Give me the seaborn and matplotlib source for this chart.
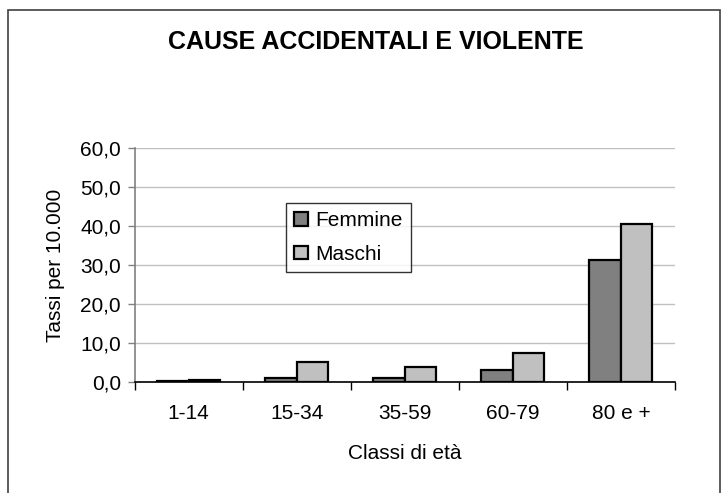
import matplotlib
matplotlib.use("Agg")
import matplotlib.pyplot as plt
import seaborn as sns
import pandas as pd
from matplotlib.patches import Rectangle
from matplotlib.ticker import FuncFormatter, MultipleLocator, FixedLocator

categories = ["1-14", "15-34", "35-59", "60-79", "80 e +"]
femmine = [0.3, 1.1, 1.1, 3.2, 31.2]
maschi = [0.5, 5.1, 3.9, 7.5, 40.6]
series = ["Femmine", "Maschi"]
colors = {"Femmine": "#808080", "Maschi": "#C0C0C0"}

df = pd.DataFrame({
    "Classe": categories * 2,
    "Valore": femmine + maschi,
    "Sesso": [series[0]] * len(categories) + [series[1]] * len(categories),
})

sns.set_theme(style="white")
plt.rcParams["font.family"] = ["Liberation Sans", "DejaVu Sans"]
plt.rcParams["text.color"] = "black"
plt.rcParams["axes.labelcolor"] = "black"
plt.rcParams["xtick.color"] = "black"
plt.rcParams["ytick.color"] = "black"

FS = 15

fig = plt.figure(figsize=(7.28, 4.93), dpi=100)
ax = fig.add_axes([0.185, 0.225, 0.742, 0.475])

sns.barplot(data=df, x="Classe", y="Valore", hue="Sesso", order=categories,
            hue_order=series, palette=colors, width=0.585, gap=0,
            edgecolor="black", linewidth=1.6, ax=ax, legend=True, zorder=3)

ax.set_ylim(0, 60)
ax.set_xlim(-0.5, 4.5)
ax.yaxis.set_major_locator(MultipleLocator(10))
ax.yaxis.set_major_formatter(FuncFormatter(lambda v, p: f"{v:.1f}".replace(".", ",")))
ax.grid(axis="y", color="#C0C0C0", linewidth=1, zorder=0)
ax.grid(axis="x", visible=False)
ax.set_axisbelow(True)

for s in ["top", "right"]:
    ax.spines[s].set_visible(False)
ax.spines["left"].set_color("#808080")
ax.spines["left"].set_linewidth(1.2)
ax.spines["bottom"].set_color("black")
ax.spines["bottom"].set_linewidth(1.2)

ax.tick_params(axis="y", which="major", direction="out", length=5, width=1,
               color="#808080", labelcolor="black", labelsize=FS, pad=5, left=True)
ax.xaxis.set_minor_locator(FixedLocator([-0.5, 0.5, 1.5, 2.5, 3.5, 4.5]))
ax.tick_params(axis="x", which="minor", direction="out", length=6, width=1,
               color="black", bottom=True)
ax.tick_params(axis="x", which="major", length=0, labelsize=FS, pad=16,
               labelcolor="black")

ax.set_xlabel("Classi di età", fontsize=FS, labelpad=15, color="black")
ax.set_ylabel("Tassi per 10.000", fontsize=FS, labelpad=11, color="black")

leg = ax.legend(loc="upper left", bbox_to_anchor=(0.280, 0.765), frameon=True,
                fancybox=False, edgecolor="black", fontsize=FS,
                handlelength=0.65, handleheight=0.65, handletextpad=0.35,
                borderpad=0.4, labelspacing=0.7, borderaxespad=0)
leg.get_frame().set_linewidth(1.0)
for t in leg.get_texts():
    t.set_color("black")
for h in leg.legend_handles:
    h.set_edgecolor("black")
    h.set_linewidth(1.6)

fig.text(0.516, 0.915, "CAUSE ACCIDENTALI E VIOLENTE", ha="center", va="center",
         fontsize=18, fontweight="bold", color="black")

fig.patches.append(Rectangle((8 / 728, -0.05), (720 - 8) / 728, 1.05 - 10 / 493,
                             transform=fig.transFigure, fill=False,
                             edgecolor="#404040", linewidth=1.2))

fig.savefig("out.png", dpi=100)
